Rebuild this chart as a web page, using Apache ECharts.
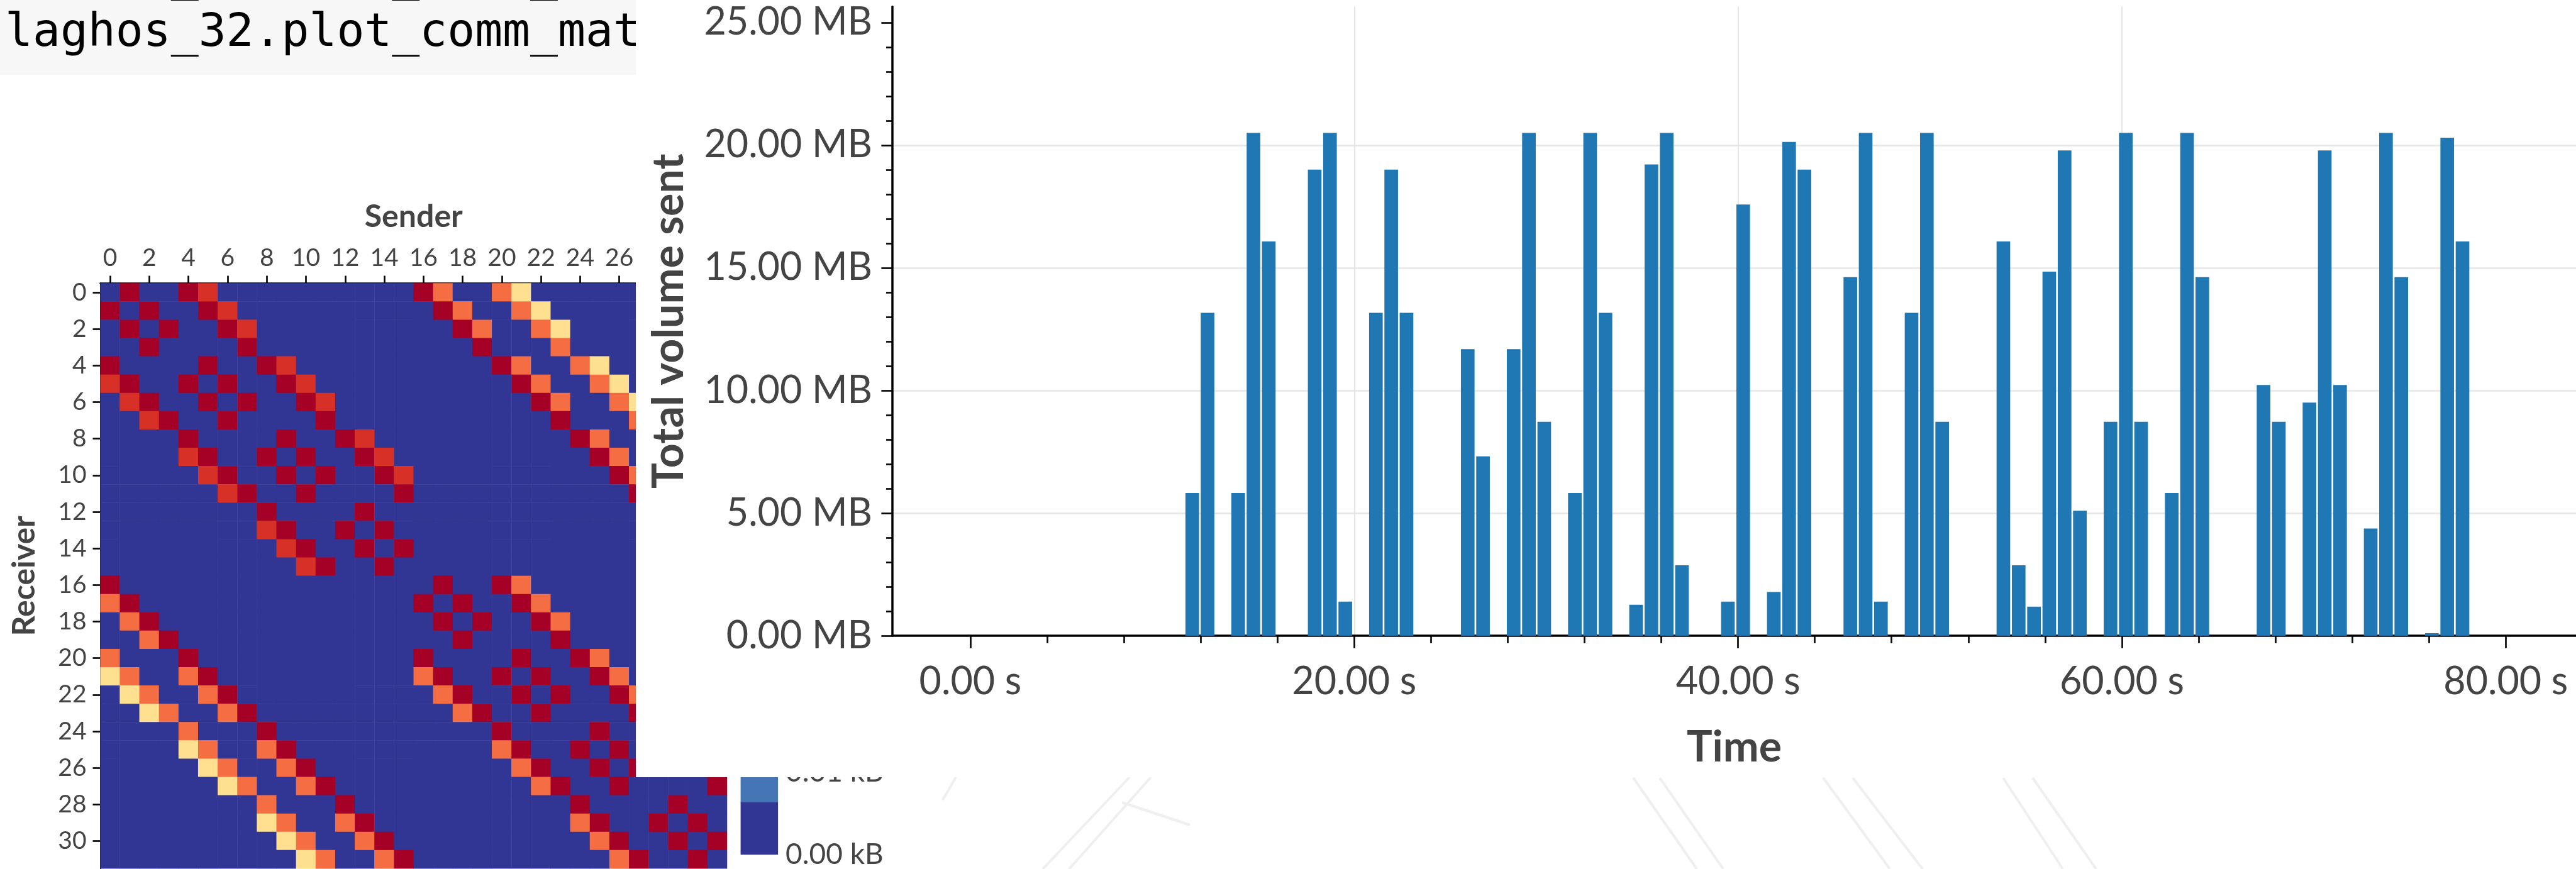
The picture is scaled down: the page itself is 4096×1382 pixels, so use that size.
<!DOCTYPE html>
<html>
<head>
<meta charset="utf-8">
<script src="https://cdn.jsdelivr.net/npm/echarts@6.0.0/dist/echarts.min.js"></script>
<style>
html,body{margin:0;padding:0;background:#ffffff;}
#chart{width:4096px;height:1382px;}
</style>
</head>
<body>
<div id="chart"></div>
<script>
// ================= DATA =================
const codeLines = ['laghos_32.plot_comm_over_time()', 'laghos_32.plot_comm_matrix()'];

// ranks 0..31 (sender / receiver categories)
const rankLabels = ['0','1','2','3','4','5','6','7','8','9','10','11','12','13','14','15',
  '16','17','18','19','20','21','22','23','24','25','26','27','28','29','30','31'];

// communication matrix: row = receiver, column = sender
// '.' = 0, Y / O / R / D = increasing volume levels
const commRows = [
  '.D..DR' + '..........' + 'DO..OY' + '..........',
  'D.D..DR' + '..........' + 'DO..OY' + '.........',
  '.D.D..DR' + '..........' + 'DO..OY' + '........',
  '..D....D' + '...........' + 'D...O' + '........',
  'D....D..DR' + '..........' + 'DO..OY' + '......',
  'RD..D.D..DR' + '..........' + 'DO..OY' + '.....',
  '.RD..D.D..DR' + '..........' + 'DO..OY' + '....',
  '..RD..D....D' + '...........' + 'D...O' + '....',
  '....D....D..DR' + '..........' + 'DO..OY..',
  '....RD..D.D..DR' + '..........' + 'DO..OY.',
  '.....RD..D.D..DR' + '..........' + 'DO..OY',
  '......RD..D....D' + '...........' + 'D...O',
  '........D....D' + '..............' + 'DO..',
  '........RD..D.D' + '..............' + 'DO.',
  '.........RD..D.D' + '..............' + 'DO',
  '..........RD..D' + '................' + 'D',
  'D' + '................' + 'D..DO' + '..........',
  'OD' + '..............' + 'D.D..DO' + '.........',
  '.OD' + '..............' + 'D.D..DO' + '........',
  '..OD' + '..............' + 'D....D' + '........',
  'O...D' + '...........' + 'D....D..DO' + '......',
  'YO..OD' + '..........' + 'OD..D.D..DO' + '.....',
  '.YO..OD' + '..........' + 'OD..D.D..DO' + '....',
  '..YO..OD' + '..........' + 'OD..D....D' + '....',
  '....O...D' + '...........' + 'D....D..DO..',
  '....YO..OD' + '..........' + 'OD..D.D..DO.',
  '.....YO..OD' + '..........' + 'OD..D.D..DO',
  '......YO..OD' + '..........' + 'OD..D....D',
  '........O...D' + '...........' + 'D....D..',
  '........YO..OD' + '..........' + 'OD..D.D.',
  '.........YO..OD' + '..........' + 'OD..D.D',
  '..........YO..OD' + '..........' + 'OD..D.'
];
const commLevelKB = {'.': 0, 'Y': 0.041, 'O': 0.054, 'R': 0.060, 'D': 0.070};
const commMaxKB = 0.07;
const paletteRdYlBuR = ['#313695','#4575b4','#74add1','#abd9e9','#e0f3f8','#ffffbf',
  '#fee090','#fdae61','#f46d43','#d73027','#a50026'];
const colorbarTickKB = [0.00, 0.01];

// total volume sent per time bin (100 bins of equal width)
const binWidthSec = 0.7974;
const volumeMB = [
  0, 0, 0, 0, 0, 0, 0, 0, 0, 0,
  0, 0, 0, 0, 5.82, 13.16, 0, 5.82, 20.5, 16.07,
  0, 0, 19.0, 20.5, 1.39, 0, 13.16, 19.0, 13.16, 0,
  0, 0, 11.68, 7.31, 0, 11.68, 20.5, 8.72, 0, 5.82,
  20.5, 13.16, 0, 1.26, 19.21, 20.5, 2.87, 0, 0, 1.39,
  17.58, 0, 1.78, 20.13, 19.0, 0, 0, 14.62, 20.5, 1.39,
  0, 13.16, 20.5, 8.72, 0, 0, 0, 16.07, 2.87, 1.18,
  14.84, 19.78, 5.09, 0, 8.72, 20.5, 8.72, 0, 5.82, 20.5,
  14.62, 0, 0, 0, 10.22, 8.72, 0, 9.50, 19.78, 10.22,
  0, 4.37, 20.5, 14.62, 0, 0.1, 20.3, 16.07, 0, 0
];
const timeTickSec = [0, 20, 40, 60, 80];
const timeMinorSec = [4, 8, 12, 16, 24, 28, 32, 36, 44, 48, 52, 56, 64, 68, 72, 76];
const volumeTickMB = [0, 5, 10, 15, 20, 25];
const volumeMinorMB = [1, 2, 3, 4, 6, 7, 8, 9, 11, 12, 13, 14, 16, 17, 18, 19, 21, 22, 23, 24];

// ================= LAYOUT / STYLE =================
const FONT = 'Lato';
const LABEL = '#444444';
const heatGrid = {left: 159.5, top: 450.5, width: 996.5, height: 930.7};
const barGrid = {left: 1419, top: 10.4, right: 0, bottom: 371.1};
const timeRange = [-4.06, 83.66];
const volumeMax = 25.65;
const panel = {x: 1011, bottom: 1236};
const colorbar = {x: 1177.6, w: 59.5, bottom: 1358.7, h: 914.5, labelX: 1249};

// ================= BUILD =================
const heatData = [];
commRows.forEach((row, r) => {
  for (let c = 0; c < row.length; c++) heatData.push([c, r, commLevelKB[row[c]]]);
});
const step = commMaxKB / paletteRdYlBuR.length;
const pieces = paletteRdYlBuR.map((col, i) =>
  i === paletteRdYlBuR.length - 1 ? {gte: i * step, lte: commMaxKB + 1e-9, color: col}
                                  : {gte: i * step, lt: (i + 1) * step, color: col});
const barData = volumeMB.map((v, k) => [(k + 0.5) * binWidthSec, v]);

const graphics = [];
// white panel of the bar-chart output (covers right part of heatmap)
graphics.push({type: 'rect', silent: true, z: 5,
  shape: {x: panel.x, y: 0, width: 4200 - panel.x, height: panel.bottom}, style: {fill: '#ffffff'}});
// code cell background
graphics.push({type: 'rect', silent: true, z: 3,
  shape: {x: 0, y: 0, width: panel.x, height: 119}, style: {fill: '#f7f7f7'}});
const codeBaselines = [-10, 79.3];
codeLines.forEach((t, i) => graphics.push({type: 'text', silent: true, z: 4,
  x: 8, y: codeBaselines[i] - 25.3,
  style: {text: t, fill: '#000000', fontFamily: '"DejaVu Sans Mono", monospace', fontSize: 73,
    verticalAlign: 'middle', textVerticalAlign: 'middle', align: 'left'}}));
// colorbar (mostly hidden behind the panel)
const pieceH = colorbar.h / paletteRdYlBuR.length;
paletteRdYlBuR.forEach((col, i) => graphics.push({type: 'rect', silent: true, z: 3,
  shape: {x: colorbar.x, y: colorbar.bottom - (i + 1) * pieceH, width: colorbar.w, height: pieceH + 0.5},
  style: {fill: col}}));
colorbarTickKB.forEach(v => graphics.push({type: 'text', silent: true, z: 3,
  x: colorbar.labelX, y: colorbar.bottom - v / commMaxKB * colorbar.h,
  style: {text: v.toFixed(2) + ' kB', fill: LABEL, fontFamily: FONT, fontSize: 46,
    verticalAlign: 'middle', textVerticalAlign: 'middle', align: 'left'}}));
// faint background watermark strokes below the panel
const watermark = [
  [1520, 1236, 1499, 1272], [1796, 1236, 1658, 1382], [1830, 1236, 1700, 1382],
  [1784, 1276, 1892, 1312],
  [2597, 1237, 2698, 1382], [2639, 1237, 2740, 1382],
  [2899, 1237, 3005, 1382], [2946, 1237, 3057, 1382],
  [3185, 1237, 3280, 1382], [3232, 1237, 3333, 1382]
];
watermark.forEach(s => graphics.push({type: 'line', silent: true, z: 1,
  shape: {x1: s[0], y1: s[1], x2: s[2], y2: s[3]}, style: {stroke: '#efefef', lineWidth: 4}}));

const tickLine = {color: '#000000', width: 2.6};
const option = {
  animation: false,
  backgroundColor: '#ffffff',
  grid: [
    Object.assign({containLabel: false, outerBoundsMode: 'none', show: false}, heatGrid),
    Object.assign({containLabel: false, outerBoundsMode: 'none', show: false}, barGrid)
  ],
  visualMap: [{type: 'piecewise', show: false, seriesIndex: 0, dimension: 2, pieces: pieces}],
  xAxis: [
    { // heatmap sender axis
      type: 'category', gridIndex: 0, position: 'top', data: rankLabels, z: 1,
      axisLine: {show: true, onZero: false, lineStyle: {color: '#000', width: 2.7}},
      axisTick: {show: true, alignWithLabel: true, interval: 1, length: 12, lineStyle: tickLine},
      axisLabel: {interval: 1, margin: 40, verticalAlign: 'middle', fontFamily: FONT, fontSize: 39,
        color: LABEL, hideOverlap: false},
      splitLine: {show: false},
      name: 'Sender', nameLocation: 'middle', nameGap: 106,
      nameTextStyle: {fontFamily: FONT, fontWeight: 'bold', fontSize: 50, color: LABEL, verticalAlign: 'middle'}
    },
    { // time axis, major ticks + labels
      type: 'value', gridIndex: 1, position: 'bottom', min: timeRange[0], max: timeRange[1], z: 6,
      axisLine: {show: true, onZero: false, lineStyle: {color: '#000', width: 3.5}},
      axisTick: {show: true, customValues: timeTickSec, length: 20, lineStyle: tickLine},
      axisLabel: {customValues: timeTickSec, formatter: v => Number(v).toFixed(2) + ' s', margin: 73,
        verticalAlign: 'middle', fontFamily: FONT, fontSize: 61, color: LABEL, hideOverlap: false},
      splitLine: {show: true, showMinLine: false, showMaxLine: false, lineStyle: {color: '#e6e6e6', width: 2.2}},
      name: 'Time', nameLocation: 'middle', nameGap: 178,
      nameTextStyle: {fontFamily: FONT, fontWeight: 'bold', fontSize: 68, color: LABEL, verticalAlign: 'middle'}
    },
    { // time axis minor ticks
      type: 'value', gridIndex: 1, position: 'bottom', min: timeRange[0], max: timeRange[1], z: 6,
      axisLine: {show: false, onZero: false},
      axisTick: {show: true, customValues: timeMinorSec, length: 12, lineStyle: tickLine},
      axisLabel: {show: false}, splitLine: {show: false}
    }
  ],
  yAxis: [
    { // heatmap receiver axis
      type: 'category', gridIndex: 0, position: 'left', inverse: true, data: rankLabels, z: 1,
      axisLine: {show: true, onZero: false, lineStyle: {color: '#000', width: 2}},
      axisTick: {show: true, alignWithLabel: true, interval: 1, length: 12, lineStyle: tickLine},
      axisLabel: {interval: 1, margin: 22, fontFamily: FONT, fontSize: 39, color: LABEL, hideOverlap: false},
      splitLine: {show: false},
      name: 'Receiver', nameLocation: 'middle', nameGap: 121, nameRotate: 90,
      nameTextStyle: {fontFamily: FONT, fontWeight: 'bold', fontSize: 50, color: LABEL, verticalAlign: 'middle'}
    },
    { // volume axis, major ticks + labels
      type: 'value', gridIndex: 1, position: 'left', min: 0, max: volumeMax, z: 6,
      axisLine: {show: true, onZero: false, lineStyle: {color: '#000', width: 3.5}},
      axisTick: {show: true, customValues: volumeTickMB, length: 17.6, lineStyle: tickLine},
      axisLabel: {customValues: volumeTickMB, formatter: v => Number(v).toFixed(2) + ' MB', margin: 32,
        fontFamily: FONT, fontSize: 61, color: LABEL, hideOverlap: false},
      splitLine: {show: true, showMinLine: false, showMaxLine: false, lineStyle: {color: '#e6e6e6', width: 2.6}},
      name: 'Total volume sent', nameLocation: 'middle', nameGap: 355, nameRotate: 90,
      nameTextStyle: {fontFamily: FONT, fontWeight: 'bold', fontSize: 68, color: LABEL, verticalAlign: 'middle'}
    },
    { // volume axis minor ticks
      type: 'value', gridIndex: 1, position: 'left', min: 0, max: volumeMax, z: 6,
      axisLine: {show: false, onZero: false},
      axisTick: {show: true, customValues: volumeMinorMB, length: 10, lineStyle: tickLine},
      axisLabel: {show: false}, splitLine: {show: false}
    }
  ],
  series: [
    {
      type: 'heatmap', xAxisIndex: 0, yAxisIndex: 0, data: heatData, z: 2,
      itemStyle: {borderWidth: 0}, emphasis: {disabled: true}, progressive: 0
    },
    {
      type: 'bar', xAxisIndex: 1, yAxisIndex: 1, data: barData, z: 7,
      barWidth: '89%', itemStyle: {color: '#1f77b4'}, emphasis: {disabled: true}
    }
  ],
  graphic: {elements: graphics}
};

const chart = echarts.init(document.getElementById('chart'), null, {renderer: 'canvas', width: 4096, height: 1382});
chart.setOption(option);
</script>
</body>
</html>
